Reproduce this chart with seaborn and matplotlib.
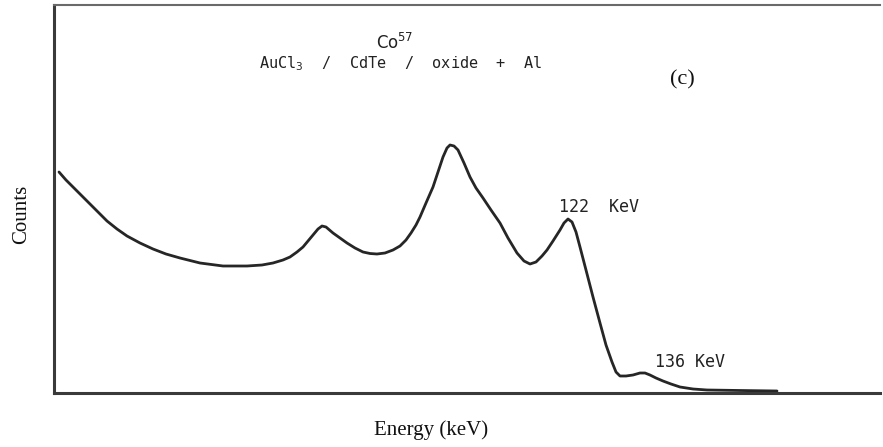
import matplotlib
matplotlib.use("Agg")
import matplotlib.pyplot as plt
import seaborn as sns
import pandas as pd

# Spectrum (channel, counts in arbitrary units)
channel = [5, 12, 19, 28, 36, 45, 53, 63, 73, 86, 99, 112, 126, 146, 169, 193,
           208, 219, 229, 236, 243, 249, 254, 259, 264, 268, 272, 279, 286, 293,
           301, 309, 316, 323, 331, 339, 346, 352, 357, 362, 366, 372, 379, 384,
           389, 393, 396, 400, 404, 410, 416, 422, 429, 437, 446, 454, 463, 470,
           476, 482, 488, 493, 499, 506, 510, 514, 518, 522, 526, 532, 539, 546,
           552, 558, 562, 566, 572, 579, 586, 591, 596, 602, 609, 617, 626, 639,
           653, 686, 723]
counts = [221, 213, 206, 197, 189, 180, 172, 164, 157, 150, 144, 139, 135, 130,
          127, 127, 128, 130, 133, 136, 141, 146, 152, 158, 164, 167, 166, 160,
          155, 150, 145, 141, 139.5, 139, 140, 143, 147, 153, 160, 168, 176, 190,
          206, 221, 236, 245, 248, 247, 243, 230, 216, 205, 195, 183, 170, 155,
          140, 132, 129, 131, 137, 143, 152, 163, 170, 174, 171, 161, 146, 123,
          96, 70, 48, 31, 21, 17, 17, 18, 20, 20, 18, 15, 12, 9, 6, 4, 3, 2.5, 2]

title_isotope = "Co$^{57}$"
title_sample = "AuCl$_3$  /  CdTe  /  oxide  +  Al"
panel_label = "(c)"
peak_labels = ["122  KeV", "136 KeV"]
peak_channels = [514, 591]
peak_counts = [174, 20]
xlabel = "Energy (keV)"
ylabel = "Counts"

df = pd.DataFrame({"channel": channel, "counts": counts})

sns.set_theme(style="white")
fig = plt.figure(figsize=(8.83, 4.47), dpi=100)
ax = fig.add_axes([54 / 883, 1 - 393 / 447, (880 - 54) / 883, (393 - 5) / 447])

line = sns.lineplot(data=df, x="channel", y="counts", ax=ax, color="#262626",
                    linewidth=2.0, sort=False)
for ln in ax.lines:
    ln.set_solid_joinstyle("round")
    ln.set_solid_capstyle("round")

ax.set_xlim(0, 826)
ax.set_ylim(0, 388)
ax.set_xticks([])
ax.set_yticks([])
ax.set_xlabel("")
ax.set_ylabel("")

for side in ["left", "bottom"]:
    ax.spines[side].set_color("#3a3a3a")
    ax.spines[side].set_linewidth(2.2)
ax.spines["top"].set_color("#6a6a6a")
ax.spines["top"].set_linewidth(1.5)
ax.spines["right"].set_visible(False)

mono = "DejaVu Sans Mono"
ax.text(394 - 54, 393 - 43, title_isotope, ha="center", va="center",
        fontsize=12, family="DejaVu Sans", color="#222222")
ax.text(401 - 54, 393 - 64, title_sample, ha="center", va="center",
        fontsize=11, family=mono, color="#222222")
ax.text(682 - 54, 393 - 80, panel_label, ha="center", va="center",
        fontsize=16, family="Liberation Serif", color="#111111")
ax.text(peak_channels[0] + 31, peak_counts[0] + 12, peak_labels[0], ha="center",
        va="center", fontsize=12, family=mono, color="#222222")
ax.text(peak_channels[1] + 45, peak_counts[1] + 11, peak_labels[1], ha="center",
        va="center", fontsize=12, family=mono, color="#222222")

fig.text(431 / 883, 1 - 430 / 447, xlabel, ha="center", va="center",
         fontsize=15, family="Liberation Serif", color="#111111")
fig.text(22 / 883, 1 - 214 / 447, ylabel, ha="center", va="center",
         rotation=90, fontsize=15, family="Liberation Serif", color="#111111")

fig.savefig("out.png", dpi=100)
